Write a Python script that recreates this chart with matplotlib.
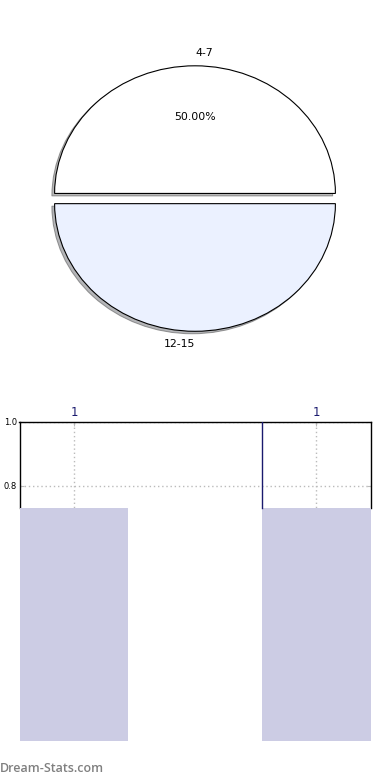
import matplotlib
matplotlib.use("Agg")
import matplotlib.pyplot as plt

# Pie data
pie_labels = ["4-7", "12-15"]
pie_values = [50, 50]
pie_colors = ["#ffffff", "#ebf1ff"]
pie_explode = [0.04, 0.04]

# Bar data
bar_positions = [0, 1]
bar_values = [0.73, 0.73]
bar_ticklabels = ["1", "1"]
bar_width = 0.45
yticks = [0.8, 1.0]

fig, (ax1, ax2) = plt.subplots(2, 1, figsize=(3.9, 7.8), dpi=100)
fig.subplots_adjust(left=0.05, right=0.95, top=0.95, bottom=0.05, hspace=0.2)

def pct(v, state={"i": 0}):
    i = state["i"]
    state["i"] += 1
    return "%.2f%%" % v if i == 0 else ""

wedges, texts, autotexts = ax1.pie(
    pie_values, labels=pie_labels, colors=pie_colors, explode=pie_explode,
    startangle=0, shadow=dict(ox=-0.014, oy=-0.014, shade=0.55,
                              edgecolor="#444444", linewidth=0.7),
    autopct=pct,
    wedgeprops=dict(edgecolor="black", linewidth=0.8),
    textprops=dict(fontsize=7.8, color="black"))
texts[0].set_ha("left")
texts[1].set_ha("right")
ax1.set_aspect("auto")
ax1.set_xlim(-1.25, 1.25)
ax1.set_ylim(-1.25, 1.25)

# Bars
ax2.bar(bar_positions, bar_values, width=bar_width, color="#ccccE4", zorder=3)
ax2.set_xlim(bar_positions[0] - bar_width / 2, bar_positions[-1] + bar_width / 2)
ax2.set_ylim(0, 1.0)
ax2.set_yticks(yticks)
ax2.set_yticklabels(["%.1f" % t for t in yticks], fontsize=6)
ax2.set_xticks(bar_positions)
ax2.set_xticklabels(bar_ticklabels, fontsize=8.5, color="#1a1a6e")
ax2.xaxis.tick_top()
ax2.tick_params(axis="both", direction="in", length=3, color="#bbbbbb", pad=2)
ax2.tick_params(axis="y", right=True)
ax2.grid(True, linestyle=(0, (1, 2)), color="#bbbbbb", linewidth=1, zorder=1)
ax2.set_axisbelow(True)
for s in ["top", "left", "right"]:
    ax2.spines[s].set_color("black")
    ax2.spines[s].set_linewidth(1)
ax2.spines["left"].set_bounds(max(bar_values), 1.0)
ax2.spines["right"].set_bounds(max(bar_values), 1.0)
ax2.spines["bottom"].set_visible(False)
ax2.axvline(bar_positions[1] - bar_width / 2, ymin=bar_values[1], ymax=1.0,
            color="#1a1a6e", linewidth=1, zorder=4)

fig.text(0.0, 0.006, "Dream-Stats.com", fontsize=9, color="#808080",
         family=["Open Sans", "DejaVu Sans"], fontweight="semibold",
         ha="left", va="bottom")

fig.savefig("out.png", dpi=100)
